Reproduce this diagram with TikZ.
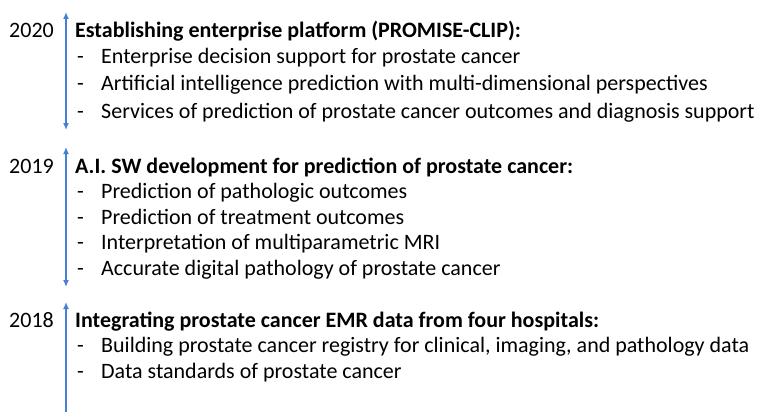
\documentclass[tikz,border=0pt]{standalone}
\usepackage{fontspec}
\setmainfont{Carlito}
\usepackage{xcolor}
\usetikzlibrary{arrows.meta}
\definecolor{lineblue}{RGB}{68,128,214}

\begin{document}
\begin{tikzpicture}[x=1pt, y=-1pt,
	year/.style={font=\fontsize{22}{26}\selectfont, anchor=base east, inner sep=0},
	head/.style={font=\fontsize{22}{26}\selectfont\bfseries, anchor=base west, inner sep=0},
	item/.style={font=\fontsize{22}{26}\selectfont, anchor=base west, inner sep=0},
	span/.style={draw=lineblue, line width=1.4pt, {Latex[length=7pt,width=6pt]}-{Latex[length=7pt,width=6pt]}}
]
\useasboundingbox (0,0) rectangle (758,412);

% 2020
\node[year] (y20) at (54,38) {2020};
\node[head] (h20) at (75,38) {Establishing enterprise platform (PROMISE-CLIP):};
\node[item] (d201) at (77,64) {-};
\node[item] (i201) at (101,64) {Enterprise decision support for prostate cancer};
\node[item] (d202) at (77,91) {-};
\node[item] (i202) at (101,91) {Artificial intelligence prediction with multi-dimensional perspectives};
\node[item] (d203) at (77,118) {-};
\node[item] (i203) at (101,118) {Services of prediction of prostate cancer outcomes and diagnosis support};
\coordinate (t20) at (66,12);
\coordinate (b20) at (66,130);
\draw[span] (t20) -- (b20);

% 2019
\node[year] (y19) at (54,173) {2019};
\node[head] (h19) at (75,173) {A.I. SW development for prediction of prostate cancer:};
\node[item] (d191) at (77,198) {-};
\node[item] (i191) at (101,198) {Prediction of pathologic outcomes};
\node[item] (d192) at (77,224) {-};
\node[item] (i192) at (101,224) {Prediction of treatment outcomes};
\node[item] (d193) at (77,249) {-};
\node[item] (i193) at (101,249) {Interpretation of multiparametric MRI};
\node[item] (d194) at (77,275) {-};
\node[item] (i194) at (101,275) {Accurate digital pathology of prostate cancer};
\coordinate (t19) at (66,147);
\coordinate (b19) at (66,287);
\draw[span] (t19) -- (b19);

% 2018
\node[year] (y18) at (54,327) {2018};
\node[head] (h18) at (75,327) {Integrating prostate cancer EMR data from four hospitals:};
\node[item] (d181) at (77,352) {-};
\node[item] (i181) at (101,352) {Building prostate cancer registry for clinical, imaging, and pathology data};
\node[item] (d182) at (77,378) {-};
\node[item] (i182) at (101,378) {Data standards of prostate cancer};
\coordinate (t18) at (66,302);
\coordinate (b18) at (66,412);
\draw[draw=lineblue, line width=1.4pt, {Latex[length=7pt,width=6pt]}-] (t18) -- (b18);
\end{tikzpicture}
\end{document}
